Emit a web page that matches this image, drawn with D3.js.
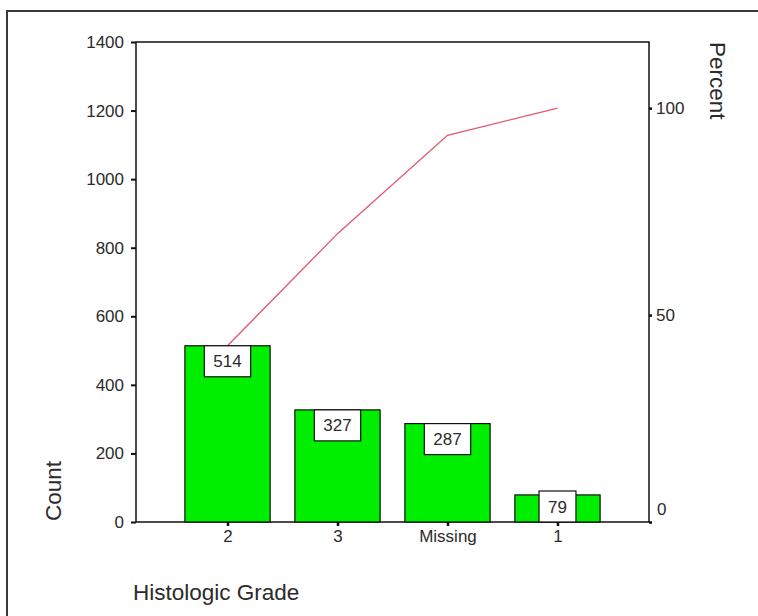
<!DOCTYPE html>
<html>
<head>
<meta charset="utf-8">
<script src="https://cdn.jsdelivr.net/npm/d3@7"></script>
<style>
  html, body { margin: 0; padding: 0; background: #fff; }
  svg { display: block; font-family: Arial, "Liberation Sans", sans-serif; }
</style>
</head>
<body>
<svg id="chart" width="758" height="616"></svg>
<script>
// Histologic grade counts, sorted for the pareto view
const grades = ["2", "3", "Missing", "1"];
const counts = [514, 327, 287, 79];
const countTicks = [0, 200, 400, 600, 800, 1000, 1200, 1400];
const percentTicks = [0, 50, 100];

const INK = "#2b2b2b";
const FONT = "Arial, 'Liberation Sans', sans-serif";

const svg = d3.select("#chart");
const plot = { left: 136, right: 649, top: 42, bottom: 522 };

const total = d3.sum(counts);
let running = 0;
const cumulative = counts.map(c => (running += c));
const rows = grades.map((g, i) => ({ grade: g, count: counts[i], cum: cumulative[i] }));

const x = d3.scalePoint()
  .domain(grades)
  .range([plot.left, plot.right])
  .padding(0.832);

const y = d3.scaleLinear()
  .domain([0, 1400])
  .range([plot.bottom, plot.top]);

// percent axis shares the count scale: 100% == total count
const yPct = d3.scaleLinear()
  .domain([0, 1400 / total * 100])
  .range([plot.bottom, plot.top]);

const barW = x.step() * 0.775;

// outer frame (only top and left edges show)
svg.append("path")
  .attr("d", "M7,616 V11 H758")
  .attr("fill", "none")
  .attr("stroke", "#3a3a3a")
  .attr("stroke-width", 2);

// plot box
svg.append("rect")
  .attr("x", plot.left).attr("y", plot.top)
  .attr("width", plot.right - plot.left)
  .attr("height", plot.bottom - plot.top)
  .attr("fill", "none")
  .attr("stroke", "#111")
  .attr("stroke-width", 1.5);

// bars
svg.selectAll(".bar")
  .data(rows)
  .join("rect")
  .attr("class", "bar")
  .attr("x", d => x(d.grade) - barW / 2)
  .attr("y", d => y(d.count))
  .attr("width", barW)
  .attr("height", d => plot.bottom - y(d.count))
  .attr("fill", "#00ee00")
  .attr("stroke", "#111")
  .attr("stroke-width", 1.2);

// cumulative percent line
const line = d3.line()
  .x(d => x(d.grade))
  .y(d => yPct(d.cum / total * 100));

svg.append("path")
  .datum(rows)
  .attr("d", line)
  .attr("fill", "none")
  .attr("stroke", "#e4576c")
  .attr("stroke-width", 1.3);

// value boxes
const boxH = 31;
const lbl = svg.selectAll(".lbl")
  .data(rows)
  .join("g")
  .attr("class", "lbl");

lbl.append("text")
  .attr("text-anchor", "middle")
  .attr("font-size", 17)
  .attr("fill", INK)
  .text(d => d.count)
  .each(function(d) {
    const w = this.getComputedTextLength() + 18;
    const top = Math.min(y(d.count), plot.bottom - boxH);
    d3.select(this.parentNode).insert("rect", "text")
      .attr("x", x(d.grade) - w / 2)
      .attr("y", top)
      .attr("width", w)
      .attr("height", boxH)
      .attr("fill", "#fff")
      .attr("stroke", "#111")
      .attr("stroke-width", 1.2);
    d3.select(this)
      .attr("x", x(d.grade))
      .attr("y", top + boxH / 2 + 6);
  });

// left axis
const leftAxis = svg.append("g")
  .attr("transform", `translate(${plot.left},0)`)
  .call(d3.axisLeft(y).tickValues(countTicks).tickFormat(d3.format("d"))
    .tickSize(5).tickPadding(7));
leftAxis.select(".domain").remove();
leftAxis.selectAll("line").attr("stroke", "#111").attr("stroke-width", 2);
leftAxis.selectAll("text")
  .attr("font-size", 17)
  .attr("font-family", FONT)
  .attr("fill", INK);

// right axis
const rightAxis = svg.append("g")
  .attr("transform", `translate(${plot.right},0)`)
  .call(d3.axisRight(yPct).tickValues(percentTicks).tickSize(3).tickPadding(4));
rightAxis.select(".domain").remove();
rightAxis.selectAll("line").attr("stroke", "#111").attr("stroke-width", 2.5);
rightAxis.selectAll("text")
  .attr("font-size", 17)
  .attr("font-family", FONT)
  .attr("fill", INK)
  .attr("dy", d => d === 0 ? "-0.45em" : "0.32em")
  .attr("x", d => d === 0 ? 8 : 7);

// bottom axis
const bottomAxis = svg.append("g")
  .attr("transform", `translate(0,${plot.bottom})`)
  .call(d3.axisBottom(x).tickSize(4).tickPadding(4));
bottomAxis.select(".domain").remove();
bottomAxis.selectAll("line").attr("stroke", "#111").attr("stroke-width", 2.5);
bottomAxis.selectAll("text")
  .attr("font-size", 17)
  .attr("font-family", FONT)
  .attr("fill", INK);

// axis titles
svg.append("text")
  .attr("transform", "translate(61,521) rotate(-90)")
  .attr("font-size", 22.5)
  .attr("fill", INK)
  .text("Count");

svg.append("text")
  .attr("transform", "translate(710,42) rotate(90)")
  .attr("font-size", 22.5)
  .attr("fill", INK)
  .text("Percent");

svg.append("text")
  .attr("x", 133)
  .attr("y", 600)
  .attr("font-size", 22.5)
  .attr("fill", INK)
  .text("Histologic Grade");
</script>
</body>
</html>
